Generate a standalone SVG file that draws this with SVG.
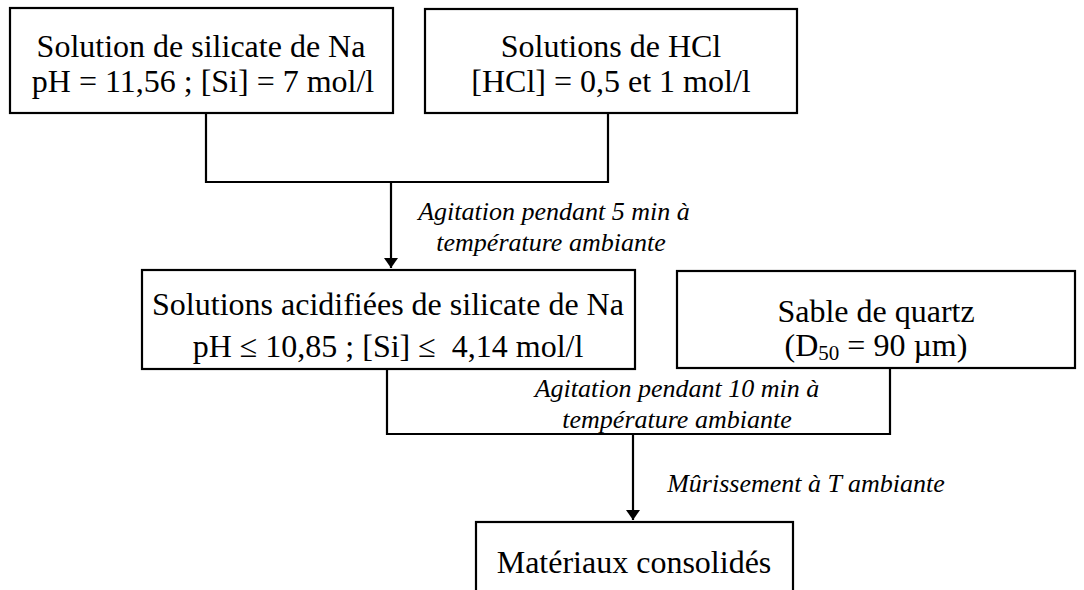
<svg xmlns="http://www.w3.org/2000/svg" width="1084" height="590" viewBox="0 0 1084 590">
<defs>
<style>
.box{fill:#fff;stroke:#000;stroke-width:2.2}
.t{font-family:"Liberation Serif","Times New Roman",serif;font-size:32px;fill:#000;text-anchor:middle}
.l{font-family:"Liberation Serif","Times New Roman",serif;font-size:26px;font-style:italic;fill:#000;text-anchor:middle}
.c{fill:none;stroke:#000;stroke-width:2.2}
</style>
<marker id="arr" viewBox="0 0 10 14" refX="10" refY="7" markerWidth="10" markerHeight="14" markerUnits="userSpaceOnUse" orient="auto">
<path d="M0,0 L10,7 L0,14 Z" fill="#000"/>
</marker>
</defs>
<rect width="1084" height="590" fill="#fff"/>
<g id="connectors">
<polyline class="c" points="206,113 206,182 608,182 608,113"/>
<line class="c" x1="391" y1="182" x2="391" y2="268" marker-end="url(#arr)"/>
<polyline class="c" points="387,369 387,434 890,434 890,368"/>
<line class="c" x1="633" y1="434" x2="633" y2="520" marker-end="url(#arr)"/>
</g>
<g id="n1">
<rect class="box" x="10" y="8" width="383" height="105"/>
<text class="t" x="201" y="57">Solution de silicate de Na</text>
<text class="t" x="203" y="92">pH = 11,56 ; [Si] = 7 mol/l</text>
</g>
<g id="n2">
<rect class="box" x="425" y="9" width="372" height="104"/>
<text class="t" x="611" y="57">Solutions de HCl</text>
<text class="t" x="611" y="92">[HCl] = 0,5 et 1 mol/l</text>
</g>
<g id="label1">
<text class="l" x="554" y="220">Agitation pendant 5 min à</text>
<text class="l" x="551" y="251">température ambiante</text>
</g>
<g id="n3">
<rect class="box" x="142" y="270" width="493" height="99"/>
<text class="t" x="388" y="315">Solutions acidifiées de silicate de Na</text>
<text class="t" x="388" y="357" xml:space="preserve">pH ≤ 10,85 ; [Si] ≤  4,14 mol/l</text>
</g>
<g id="n4">
<rect class="box" x="677" y="271" width="398" height="97"/>
<text class="t" x="876" y="322">Sable de quartz</text>
<text class="t" x="876" y="356">(D<tspan font-size="21" dy="4">50</tspan><tspan dy="-4"> = 90 µm)</tspan></text>
</g>
<g id="label2">
<text class="l" x="677" y="397">Agitation pendant 10 min à</text>
<text class="l" x="677" y="428">température ambiante</text>
</g>
<g id="label3">
<text class="l" x="806" y="492">Mûrissement à T ambiante</text>
</g>
<g id="n5">
<rect class="box" x="476" y="522" width="317" height="90"/>
<text class="t" x="634" y="573">Matériaux consolidés</text>
</g>
</svg>
